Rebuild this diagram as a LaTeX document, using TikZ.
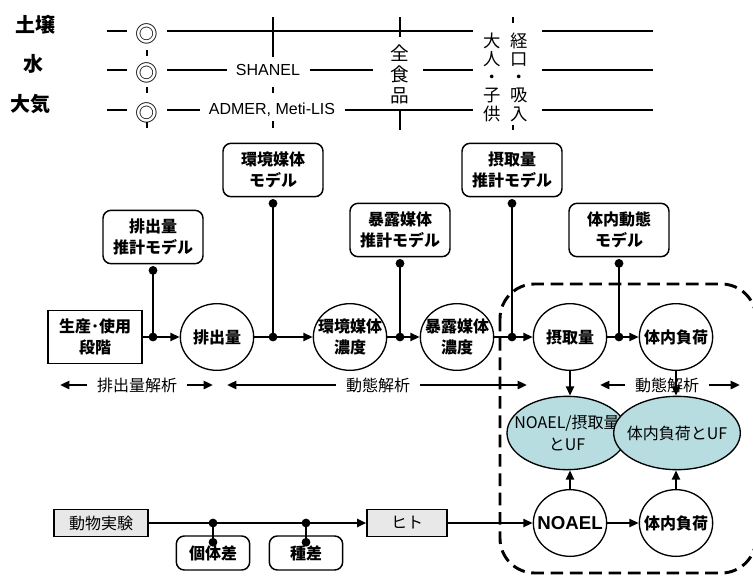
\documentclass[tikz,border=0pt]{standalone}
\usepackage{fontspec}
\setmainfont{Noto Sans CJK JP}
\newfontfamily\lat{Liberation Sans}
\usetikzlibrary{arrows.meta,shapes.geometric,calc}
\definecolor{ufblue}{RGB}{183,221,225}
\definecolor{boxgray}{RGB}{232,232,232}

\begin{document}
\begin{tikzpicture}[x=0.75pt,y=-0.75pt,
font=\fontsize{12}{16}\selectfont,
flow/.style={-{Triangle[length=7pt,width=6pt]},line width=1.8pt},
link/.style={line width=1.8pt},
gridline/.style={line width=1.1pt},
model/.style={draw,line width=1.1pt,rounded corners=6pt,minimum width=75pt,minimum height=40pt,align=center,inner sep=1pt,font=\fontsize{12}{16}\selectfont\bfseries},
stage/.style={ellipse,draw,line width=1pt,minimum width=55pt,minimum height=50pt,inner xsep=-6pt,inner ysep=0pt,align=center,font=\fontsize{12}{16}\selectfont\bfseries},
uf/.style={ellipse,draw,line width=1pt,fill=ufblue,minimum height=55pt,inner xsep=-12pt,inner ysep=0pt,align=center},
test/.style={draw,line width=1pt,fill=boxgray,minimum height=20pt,inner sep=1pt},
medium/.style={inner sep=0pt,font=\fontsize{15}{18}\selectfont\bfseries},
vtext/.style={align=center,inner sep=0pt},
ana/.style={inner xsep=7pt}
]
\useasboundingbox (0,0) rectangle (753,576);
\draw[dash pattern=on 9.5pt off 5pt,line width=2.2pt,rounded corners=26pt] (500,284) rectangle (756,573);

% media rows
\node[medium] (soil) at (35,25) {土壌};
\node[medium] (water) at (33,64) {水};
\node[medium] (air) at (30,104) {大気};
\foreach \r/\y in {1/31,2/70,3/110}
 \node[inner sep=0pt,font=\fontsize{17}{17}\selectfont] (mark\r) at (147,\y+3) {◎};
\foreach \y in {31,70,110}
 \draw[gridline] (107,\y) -- (127,\y) (542,\y) -- (653,\y);
\draw[gridline] (167,31) -- (473,31);
\draw[gridline] (167,70) -- (227,70) (310,70) -- (373,70) (423,70) -- (473,70);
\draw[gridline] (167,110) -- (200,110) (345,110) -- (473,110);
\draw[gridline] (147,50) -- (147,56) (147,87) -- (147,93) (147,122) -- (147,128);
\draw[gridline] (273,17) -- (273,57) (273,87) -- (273,93) (273,121) -- (273,128);
\draw[gridline] (400,17) -- (400,37) (400,110) -- (400,130);
\draw[gridline] (513,17) -- (513,23) (513,125) -- (513,130);
\node (shanel) at (268,70) {\lat SHANEL};
\node (admer) at (272,110) {\lat ADMER, Meti-LIS};
\node[vtext,font=\fontsize{14}{15.75}\selectfont] (food) at (400,74) {全\\食\\品};
\node[vtext,font=\fontsize{13}{13.7}\selectfont] (people) at (492,77) {大\\人\\・\\子\\供};
\node[vtext,font=\fontsize{13}{13.7}\selectfont] (route) at (519,77) {経\\口\\・\\吸\\入};

% models and exposure chain
\node[model] (emismodel) at (153,237) {排出量\\推計モデル};
\node[model] (envmodel) at (273,170) {環境媒体\\モデル};
\node[model] (expmodel) at (400,230) {暴露媒体\\推計モデル};
\node[model] (intakemodel) at (512,170) {摂取量\\推計モデル};
\node[model] (pkmodel) at (619,230) {体内動態\\モデル};
\node[model,rounded corners=0pt,minimum width=70.5pt] (source) at (95,337) {生産･使用\\段階};
\node[stage] (emission) at (217,337) {排出量};
\node[stage] (envconc) at (350,337) {環境媒体\\濃度};
\node[stage] (expconc) at (457,337) {暴露媒体\\濃度};
\node[stage] (intake) at (570,337) {摂取量};
\node[stage] (body) at (676,337) {体内負荷};
\foreach \a/\b in {source/emission,emission/envconc,envconc/expconc,expconc/intake,intake/body}
 \draw[flow] (\a) -- (\b);
\foreach \m in {emismodel,envmodel,expmodel,intakemodel,pkmodel} {
 \draw[link] ($(\m.south)+(0,6)$) -- (\m.south |- source.east);
 \fill ($(\m.south)+(0,6)$) circle[radius=3.3pt] (\m.south |- source.east) circle[radius=3.3pt];
}

% analysis ranges
\node[ana] (emislbl) at (137,385) {排出量解析};
\node[ana] (fatelbl) at (378,385) {動態解析};
\node[ana] (pklbl) at (667,385) {動態解析};
\coordinate (a1) at (60,385);
\coordinate (a2) at (213,385);
\coordinate (a3) at (227,385);
\coordinate (a4) at (527,385);
\coordinate (a5) at (600,385);
\coordinate (a6) at (740,385);
\draw[flow] (emislbl.west) -- (a1);
\draw[flow] (emislbl.east) -- (a2);
\draw[flow] (fatelbl.west) -- (a3);
\draw[flow] (fatelbl.east) -- (a4);
\draw[flow] (pklbl.west) -- (a5);
\draw[flow] (pklbl.east) -- (a6);

% hazard side
\node[uf,minimum width=90pt] (noaeluf) at (567,433) {NOAEL/摂取量\\とUF};
\node[uf,minimum width=95pt] (bodyuf) at (677,433) {体内負荷とUF};
\draw[flow] (intake) -- (intake |- noaeluf.north);
\draw[flow] (body) -- (body |- bodyuf.north);
\node[stage] (noael) at (570,523) {\lat\fontsize{14}{16}\selectfont NOAEL};
\node[stage] (body2) at (676,523) {体内負荷};
\draw[flow] (noael) -- (noael |- noaeluf.south);
\draw[flow] (body2) -- (body2 |- bodyuf.south);
\draw[flow] (noael) -- (body2);
\node[test,minimum width=70.5pt] (animal) at (101,523) {動物実験};
\node[test,minimum width=60pt] (human) at (407,523) {ヒト};
\node[model,minimum width=55pt,minimum height=25.5pt] (indiv) at (213,553) {個体差};
\node[model,minimum width=55pt,minimum height=25.5pt] (species) at (306,553) {種差};
\draw[flow] (animal) -- (human);
\draw[flow] (human) -- (noael);
\foreach \f in {indiv,species} {
 \draw[link] (\f.north |- animal.east) -- ($(\f.north)+(0,7)$);
 \fill (\f.north |- animal.east) circle[radius=3.3pt] ($(\f.north)+(0,7)$) circle[radius=3.3pt];
}
\end{tikzpicture}
\end{document}
